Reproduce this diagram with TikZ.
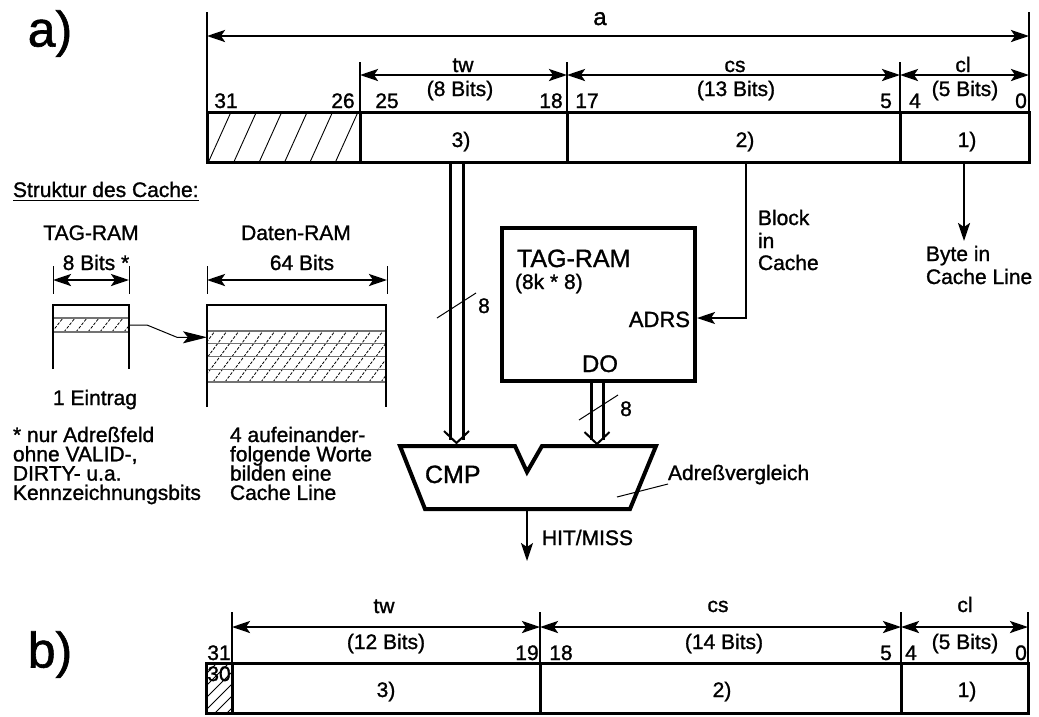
\documentclass[tikz,border=0pt]{standalone}
\usepackage{fontspec}
\setmainfont{Liberation Sans}[FakeBold=1.2]
\usetikzlibrary{arrows.meta,calc}
\newcommand{\fsz}[1]{\fontsize{#1}{#1}\selectfont}
\begin{document}
\begin{tikzpicture}[x=1pt,y=-1pt,
  >={Stealth[length=18pt,width=12pt,inset=4pt]},
  txt/.style={inner sep=0pt,outer sep=0pt,font=\fsz{21},anchor=base},
  txtw/.style={txt,anchor=base west},
  txte/.style={txt,anchor=base east},
  field/.style={draw,line width=3pt,inner sep=0pt,outer sep=0pt,minimum height=50pt},
  extline/.style={line width=2.5pt},
  dimline/.style={line width=2.5pt,<->},
  hatchline/.style={line width=0.9pt},
  dhatch/.style={line width=0.8pt,dash pattern=on 3pt off 1.5pt},
  rowline/.style={line width=1.3pt,black!55},
  busline/.style={line width=3pt},
  chevron/.style={line width=2pt},
  thinline/.style={line width=1pt},
  ramside/.style={line width=2.6pt},
]
\useasboundingbox (0,0) rectangle (1039,716);

% ---------- section labels ----------
\node[txt,font=\fsz{50}] (la) at (50,46.5) {a)};
\node[txt,font=\fsz{50}] (lb) at (50,667.5) {b)};

% ---------- register a) ----------
\begin{scope}
  \clip (207,113) rectangle (360,162);
  \foreach \i in {0,...,6} \draw[hatchline] ({208+25.4*\i},163) -- ++(23,-51);
\end{scope}
\node[field,minimum width=153pt] (fh) at (283.5,137.5) {};
\node[field,minimum width=207pt] (f3) at (463.5,137.5) {};
\node[field,minimum width=333pt] (f2) at (733.5,137.5) {};
\node[field,minimum width=129pt] (f1) at (964.5,137.5) {};

\draw[extline] (207,12) -- (207,113);
\draw[extline] (1029,12) -- (1029,113);
\draw[extline] (360,62) -- (360,113);
\draw[extline] (567,62) -- (567,113);
\draw[extline] (900,62) -- (900,113);
\coordinate (aL) at (207,36);  \coordinate (aR) at (1029,36);
\coordinate (twL) at (360,75); \coordinate (twR) at (567,75);
\coordinate (csL) at (567,75); \coordinate (csR) at (900,75);
\coordinate (clL) at (900,75); \coordinate (clR) at (1029,75);
\draw[dimline] (aL) -- (aR);
\draw[dimline] (twL) -- (twR);
\draw[dimline] (csL) -- (csR);
\draw[dimline] (clL) -- (clR);

\node[txt,font=\fsz{24}] (ta) at (600,25) {a};
\node[txt] (ttw) at (463,72) {tw};
\node[txt] (ttwb) at (460,96) {(8 Bits)};
\node[txt] (tcs) at (735,72) {cs};
\node[txt] (tcsb) at (736,96) {(13 Bits)};
\node[txt] (tcl) at (963,72) {cl};
\node[txt] (tclb) at (965,96) {(5 Bits)};
\node[txt] (n31) at (226,108) {31};
\node[txt] (n26) at (343,108) {26};
\node[txt] (n25) at (387,108) {25};
\node[txt] (n18) at (551,108) {18};
\node[txt] (n17) at (587,108) {17};
\node[txt] (n5) at (886,108) {5};
\node[txt] (n4) at (915,108) {4};
\node[txt] (n0) at (1021,108) {0};
\node[txt] (l3) at (461,147) {3)};
\node[txt] (l2) at (745,147) {2)};
\node[txt] (l1) at (967,147) {1)};

% ---------- structure of the cache ----------
\node[txtw] (struk) at (13,197) {Struktur des Cache:};
\draw[line width=1.5pt] ([yshift=-3.5pt]struk.base west) -- ([yshift=-3.5pt]struk.base east);
\node[txt] (ttag) at (91,240) {TAG-RAM};
\node[txt] (tdat) at (296,240) {Daten-RAM};
\node[txt] (t8b) at (96,270) {8 Bits *};
\node[txt] (t64b) at (302,270) {64 Bits};
\draw[thinline] (53,266) -- (53,294);
\draw[thinline] (129,266) -- (129,294);
\draw[thinline] (207,266) -- (207,294);
\draw[thinline] (387,266) -- (387,294);
\coordinate (tgL) at (53,280); \coordinate (tgR) at (129,280);
\coordinate (dtL) at (207,280); \coordinate (dtR) at (387,280);
\draw[dimline] (tgL) -- (tgR);
\draw[dimline] (dtL) -- (dtR);

% TAG entry
\begin{scope}
  \clip (53,318) rectangle (129,332);
  \foreach \i in {0,...,8} \draw[dhatch] ({40+12*\i},332) -- ++(11,-14);
\end{scope}
\draw[rowline] (53,318) -- (129,318);
\draw[rowline] (53,332) -- (129,332);
\draw[ramside] (53,369) -- (53,305) -- (129,305) -- (129,369);
\node[inner sep=0pt,outer sep=0pt,minimum width=76pt,minimum height=14pt] (tagrow) at (91,325) {};

% data lines
\begin{scope}
  \clip (207,331) rectangle (386,382);
  \foreach \i in {0,...,19} \draw[dhatch] ({165+12*\i},382) -- ++(38,-51);
\end{scope}
\foreach \yy in {331,343.7,356.5,369.2,382} \draw[rowline] (207,\yy) -- (386,\yy);
\draw[ramside] (207,407) -- (207,305) -- (386,305) -- (386,407);
\node[inner sep=0pt,outer sep=0pt,minimum width=179pt,minimum height=12.7pt] (datrow) at (296.5,337.3) {};
\draw[thinline,-{Stealth[length=24pt,width=12pt,inset=5pt]}] (tagrow.east) -- ++(18,0) -- ($(datrow.west)+(-30,0)$) -- (datrow.west);

\node[txt] (tein) at (95,405) {1 Eintrag};
\node[txtw] (s1) at (13,442) {* nur Adreßfeld};
\node[txtw] (s2) at (13,461.3) {ohne VALID-,};
\node[txtw] (s3) at (13,480.6) {DIRTY- u.a.};
\node[txtw] (s4) at (13,499.9) {Kennzeichnungsbits};
\node[txtw] (d1) at (230,442) {4 aufeinander-};
\node[txtw] (d2) at (230,461.3) {folgende Worte};
\node[txtw] (d3) at (230,480.6) {bilden eine};
\node[txtw] (d4) at (230,499.9) {Cache Line};

% ---------- TAG-RAM block ----------
\node[draw,line width=4pt,inner sep=0pt,minimum width=193pt,minimum height=153pt] (tagram) at (598.5,304.5) {};
\node[txtw,font=\fsz{25}] (tgt) at (517,267) {TAG-RAM};
\node[txtw] (tgs) at (515,289) {(8k * 8)};
\node[txte,font=\fsz{22}] (adrs) at (690,327) {ADRS};
\node[txt,font=\fsz{24}] (do) at (600,372) {DO};

\coordinate (blkTop) at (746,163);
\draw[line width=1.8pt,->] (blkTop) |- ([yshift=-13.5pt]tagram.east);
\node[txtw] (bk1) at (758,225) {Block};
\node[txtw] (bk2) at (758,248) {in};
\node[txtw] (bk3) at (758,270) {Cache};

\coordinate (byteTop) at (964,163);
\coordinate (byteEnd) at (964,241);
\draw[line width=2.4pt,->] (byteTop) -- (byteEnd);
\node[txtw] (by1) at (926,261) {Byte in};
\node[txtw] (by2) at (926,284) {Cache Line};

% ---------- comparator ----------
\draw[line width=4pt,line join=miter] (400,446) -- (515,446) -- (527,472) -- (542,446) -- (656,446) -- (630,509) -- (425,509) -- cycle;
\node[txtw,font=\fsz{25}] (cmp) at (425,483) {CMP};
\coordinate (cmpinA) at (456.5,443);
\coordinate (cmpinB) at (597,444);
\coordinate (cmpout) at (527,511);
\coordinate (busA) at (456.5,163);
\coordinate (busB) at (597,383);

\draw[busline] ([xshift=-6.5pt]busA) -- ([xshift=-6.5pt,yshift=3pt]cmpinA);
\draw[busline] ([xshift=6.5pt]busA) -- ([xshift=6.5pt,yshift=3pt]cmpinA);
\draw[chevron] ([xshift=-12.5pt,yshift=12pt]cmpinA) -- (cmpinA) -- ([xshift=12.5pt,yshift=12pt]cmpinA);
\draw[thinline] (437,318) -- (476,293);
\node[txt] (b8a) at (484,313) {8};

\draw[busline] ([xshift=-6pt]busB) -- ([xshift=-6pt,yshift=4pt]cmpinB);
\draw[busline] ([xshift=6pt]busB) -- ([xshift=6pt,yshift=4pt]cmpinB);
\draw[chevron] ([xshift=-12.5pt,yshift=12pt]cmpinB) -- (cmpinB) -- ([xshift=12.5pt,yshift=12pt]cmpinB);
\draw[thinline] (579,420) -- (618,395);
\node[txt] (b8b) at (626,416) {8};

\node[txtw] (avg) at (668,480) {Adreßvergleich};
\draw[thinline] (617,497) -- (avg.west |- 0,484);

\coordinate (hitEnd) at (527,561);
\draw[line width=2pt,->] (cmpout) -- (hitEnd);
\node[txtw] (hit) at (542,545) {HIT/MISS};

% ---------- register b) ----------
\begin{scope}
  \clip (206,663) rectangle (232,713);
  \foreach \i in {0,...,7} \draw[hatchline] (200,{668+12*\i}) -- ++(40,-40);
\end{scope}
\node[field,minimum width=26pt] (gh) at (219,688) {};
\node[field,minimum width=308pt] (g3) at (386,688) {};
\node[field,minimum width=361pt] (g2) at (720.5,688) {};
\node[field,minimum width=127pt] (g1) at (964.5,688) {};

\draw[extline] (232,612) -- (232,663);
\draw[extline] (540,612) -- (540,663);
\draw[extline] (901,612) -- (901,663);
\draw[extline] (1028,612) -- (1028,663);
\coordinate (btwL) at (232,627); \coordinate (btwR) at (540,627);
\coordinate (bcsL) at (540,627); \coordinate (bcsR) at (901,627);
\coordinate (bclL) at (901,627); \coordinate (bclR) at (1028,627);
\draw[dimline] (btwL) -- (btwR);
\draw[dimline] (bcsL) -- (bcsR);
\draw[dimline] (bclL) -- (bclR);

\node[txt] (btw) at (384,613) {tw};
\node[txt] (btwb) at (386,649) {(12 Bits)};
\node[txt] (bcs) at (718,612) {cs};
\node[txt] (bcsb) at (724,649) {(14 Bits)};
\node[txt] (bcl) at (965,612) {cl};
\node[txt] (bclb) at (965,649) {(5 Bits)};
\node[txt] (m31) at (219,660) {31};
\node[txt] (m30) at (219,681) {30};
\node[txt] (m19) at (527,660) {19};
\node[txt] (m18) at (561,660) {18};
\node[txt] (m5) at (886,660) {5};
\node[txt] (m4) at (911,660) {4};
\node[txt] (m0) at (1021,660) {0};
\node[txt] (k3) at (386,697) {3)};
\node[txt] (k2) at (722,697) {2)};
\node[txt] (k1) at (967,697) {1)};
\end{tikzpicture}
\end{document}
